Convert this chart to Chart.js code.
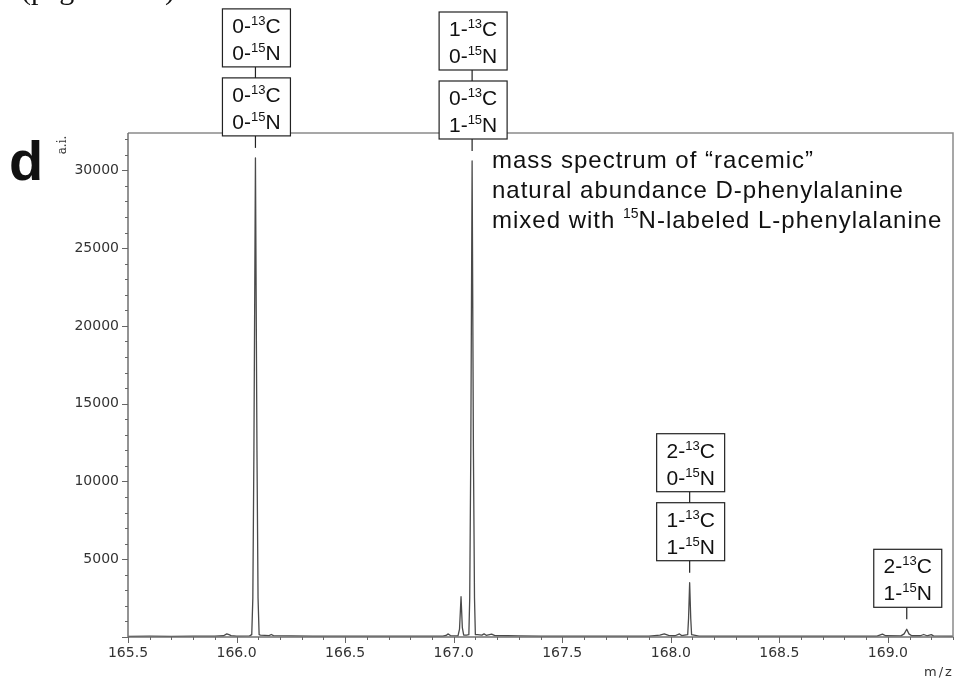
<!doctype html>
<html lang="en">
  <head>
    <meta charset="UTF-8" />
    <title>mass spectrum of racemic phenylalanine</title>
    <script src="https://cdn.jsdelivr.net/npm/chart.js"></script>
    <style>
      body {
        margin: 0;
        background: #fff;
      }
      .chart-container {
        position: relative;
        width: 956px;
        height: 683px;
      }
    </style>
  </head>
  <body>
    <div class="chart-container">
      <canvas id="msChart"></canvas>
    </div>

    <script>
      // profile of the spectrum (m/z, a.i.)
      const mz = [
        165.5, 165.6, 165.7, 165.8, 165.9, 165.94, 165.955, 165.965, 165.975, 166.0,
        166.06, 166.07, 166.075, 166.08, 166.087, 166.094, 166.099, 166.104, 166.11, 166.15,
        166.16, 166.17, 166.25, 166.35, 166.5, 166.7, 166.85, 166.95, 166.965, 166.975,
        166.985, 167.02, 167.027, 167.034, 167.04, 167.046, 167.06, 167.07, 167.074, 167.079,
        167.085, 167.091, 167.096, 167.1, 167.11, 167.13, 167.14, 167.15, 167.175, 167.19,
        167.25, 167.3, 167.4, 167.6, 167.8, 167.9, 167.95, 167.97, 167.99, 168.02,
        168.04, 168.05, 168.078, 168.082, 168.087, 168.092, 168.096, 168.13, 168.2, 168.4,
        168.6, 168.8, 168.95, 168.975, 168.99, 169.06, 169.075, 169.087, 169.097, 169.11,
        169.15, 169.165, 169.18, 169.2, 169.21, 169.3
      ]
      const intensity = [
        40, 50, 40, 60, 60, 80, 200, 150, 90, 60,
        70, 150, 2500, 12000, 30800, 12000, 2500, 150, 120, 90,
        160, 90, 70, 60, 60, 50, 50, 60, 100, 200,
        90, 70, 500, 2590, 600, 130, 120, 150, 2500, 12000,
        30600, 12000, 2500, 150, 150, 120, 200, 110, 180, 90,
        80, 70, 60, 60, 60, 60, 120, 200, 100, 80,
        200, 90, 150, 1200, 3490, 1200, 150, 60, 60, 50,
        50, 50, 60, 180, 80, 70, 200, 495, 200, 80,
        80, 160, 80, 150, 70, 50
      ]

      const xTickLabels = [165.5, 166.0, 166.5, 167.0, 167.5, 168.0, 168.5, 169.0]
      const yTickLabels = [5000, 10000, 15000, 20000, 25000, 30000]

      // labelled peaks: m/z, apex, and the boxes stacked above (top box first) as [13C, 15N]
      const peakMz = [166.087, 167.085, 168.087, 169.087]
      const peakTop = [30800, 30600, 3490, 495]
      const peakLabels = [
        [['0', '0'], ['0', '0']],
        [['1', '0'], ['0', '1']],
        [['2', '0'], ['1', '1']],
        [['2', '1']]
      ]

      const MAIN = '"Liberation Sans", Arial, sans-serif'

      function isoText(ctx, cx, base, n, iso, el) {
        ctx.font = '21px ' + MAIN
        const a = n + '-'
        const wa = ctx.measureText(a).width
        const wc = ctx.measureText(el).width
        ctx.font = '13px ' + MAIN
        const wb = ctx.measureText(iso).width
        const x0 = cx - (wa + wb + wc) / 2
        ctx.font = '21px ' + MAIN
        ctx.fillText(a, x0, base)
        ctx.fillText(el, x0 + wa + wb, base)
        ctx.font = '13px ' + MAIN
        ctx.fillText(iso, x0 + wa, base - 8)
      }

      function seg(ctx, x1, y1, x2, y2) {
        ctx.beginPath()
        ctx.moveTo(x1, y1)
        ctx.lineTo(x2, y2)
        ctx.stroke()
      }

      const decorations = {
        id: 'decorations',
        afterDraw: (chart) => {
          const ctx = chart.ctx
          const a = chart.chartArea
          const xs = chart.scales.x
          const ys = chart.scales.y
          ctx.save()

          // frame
          ctx.lineWidth = 1.5
          ctx.strokeStyle = '#8a8a8a'
          ctx.beginPath()
          ctx.moveTo(a.left, a.top)
          ctx.lineTo(a.right, a.top)
          ctx.lineTo(a.right, a.bottom)
          ctx.stroke()
          ctx.strokeStyle = '#707070'
          ctx.beginPath()
          ctx.moveTo(a.left, a.top)
          ctx.lineTo(a.left, a.bottom)
          ctx.lineTo(a.right, a.bottom)
          ctx.stroke()

          // major / minor tick marks
          ctx.lineWidth = 1
          ctx.strokeStyle = '#666'
          for (let k = 0; k <= 32; k++) {
            const py = Math.round(ys.getPixelForValue(k * 1000)) + 0.5
            seg(ctx, a.left - (k % 5 === 0 ? 6 : 3), py, a.left, py)
          }
          for (let k = 0; k <= 38; k++) {
            const px = Math.round(xs.getPixelForValue(165.5 + k * 0.1)) + 0.5
            seg(ctx, px, a.bottom, px, a.bottom + (k % 5 === 0 ? 6 : 3))
          }

          // peak assignment boxes
          const bw = 68
          const bh = 58
          peakMz.forEach((m, i) => {
            const px = xs.getPixelForValue(m)
            const tip = ys.getPixelForValue(peakTop[i]) - 10
            let bottom = tip - 12
            ctx.strokeStyle = '#222'
            ctx.lineWidth = 1.2
            seg(ctx, px, bottom, px, tip)
            const boxes = peakLabels[i].slice().reverse()
            boxes.forEach((b, j) => {
              const top = bottom - bh
              const cx = px + 1
              ctx.fillStyle = '#fff'
              ctx.fillRect(cx - bw / 2, top, bw, bh)
              ctx.strokeStyle = '#222'
              ctx.strokeRect(cx - bw / 2, top, bw, bh)
              ctx.fillStyle = '#111'
              ctx.textAlign = 'left'
              ctx.textBaseline = 'alphabetic'
              isoText(ctx, cx, top + 24, b[0], '13', 'C')
              isoText(ctx, cx, top + 51, b[1], '15', 'N')
              if (j < boxes.length - 1) seg(ctx, px, top, px, top - 11)
              bottom = top - 11
            })
          })

          // description
          ctx.fillStyle = '#111'
          ctx.textAlign = 'left'
          ctx.font = '24px ' + MAIN
          ctx.letterSpacing = '1px'
          ctx.fillText('mass spectrum of \u201cracemic\u201d', 492, 168)
          ctx.fillText('natural abundance D-phenylalanine', 492, 198)
          const lead = 'mixed with '
          ctx.fillText(lead, 492, 228)
          let x3 = 492 + ctx.measureText(lead).width
          ctx.font = '14px ' + MAIN
          ctx.letterSpacing = '0px'
          ctx.fillText('15', x3, 218)
          x3 += ctx.measureText('15').width
          ctx.font = '24px ' + MAIN
          ctx.letterSpacing = '1px'
          ctx.fillText('N-labeled L-phenylalanine', x3, 228)
          ctx.letterSpacing = '0px'

          // panel letter, axis captions, clipped page heading
          ctx.font = 'bold 56px ' + MAIN
          ctx.fillText('d', 9, 180)
          ctx.fillStyle = '#333'
          ctx.font = '13px "DejaVu Sans", sans-serif'
          ctx.textAlign = 'center'
          ctx.letterSpacing = '2px'
          ctx.fillText('m/z', 939, 676)
          ctx.letterSpacing = '0px'
          ctx.save()
          ctx.translate(66, 145)
          ctx.rotate(-Math.PI / 2)
          ctx.font = '12px "DejaVu Serif", serif'
          ctx.fillText('a.i.', 0, 0)
          ctx.restore()
          ctx.fillStyle = '#111'
          ctx.textAlign = 'left'
          ctx.font = '30px "Liberation Serif", serif'
          ctx.fillText('(page 2 of 2)', 21, -1)

          ctx.restore()
        }
      }

      const ctx = document.getElementById('msChart').getContext('2d')
      const msChart = new Chart(ctx, {
        type: 'line',
        data: {
          datasets: [
            {
              label: 'a.i.',
              data: mz.map((m, i) => ({ x: m, y: intensity[i] })),
              borderColor: '#4a4a4a',
              borderWidth: 1.3,
              borderJoinStyle: 'round',
              pointRadius: 0,
              tension: 0,
              fill: false
            }
          ]
        },
        options: {
          responsive: true,
          maintainAspectRatio: false,
          animation: false,
          layout: { padding: { top: 133, right: 3, left: 0, bottom: 0 } },
          plugins: {
            legend: { display: false },
            tooltip: { enabled: false }
          },
          scales: {
            x: {
              type: 'linear',
              min: 165.5,
              max: 169.3,
              grid: { display: false, drawTicks: false },
              border: { display: false },
              afterBuildTicks: (s) => {
                s.ticks = xTickLabels.map((v) => ({ value: v }))
              },
              ticks: {
                autoSkip: false,
                maxRotation: 0,
                padding: 8,
                color: '#333',
                font: { family: '"DejaVu Sans", sans-serif', size: 14 },
                callback: (v) => Number(v).toFixed(1)
              },
              afterFit: (s) => {
                s.height = 46
              }
            },
            y: {
              min: 0,
              max: 32400,
              grid: { display: false, drawTicks: false },
              border: { display: false },
              afterBuildTicks: (s) => {
                s.ticks = yTickLabels.map((v) => ({ value: v }))
              },
              ticks: {
                autoSkip: false,
                padding: 9,
                color: '#333',
                font: { family: '"DejaVu Sans", sans-serif', size: 14 },
                callback: (v) => String(v)
              },
              afterFit: (s) => {
                s.width = 128
              }
            }
          }
        },
        plugins: [decorations]
      })
    </script>
  </body>
</html>
